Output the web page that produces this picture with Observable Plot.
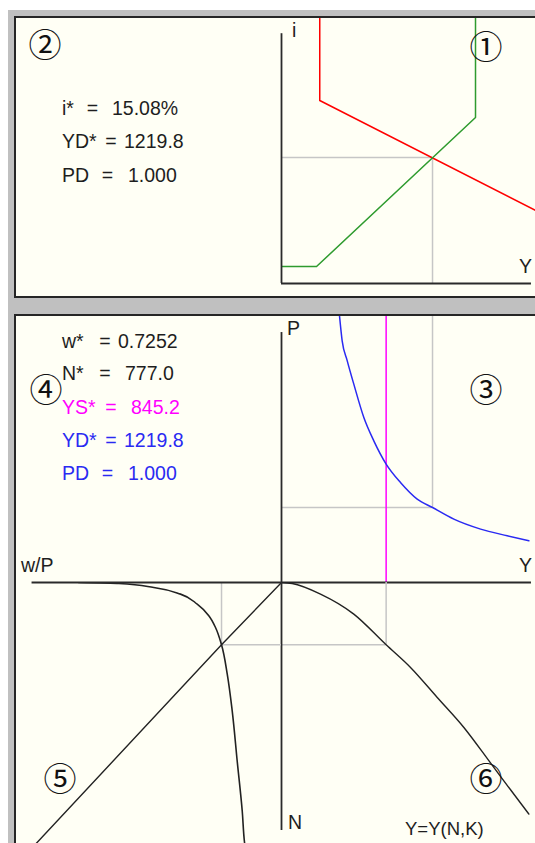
<!DOCTYPE html>
<html>
<head>
<meta charset="utf-8">
<script src="https://cdn.jsdelivr.net/npm/d3@7"></script>
<script src="https://cdn.jsdelivr.net/npm/@observablehq/plot@0.6"></script>
<style>
  html, body { margin: 0; padding: 0; background: #fff; width: 535px; height: 843px; overflow: hidden; position: relative; }
  #frame { position: absolute; left: 8px; top: 10px; width: 600px; height: 900px; background: #c0c0c0; }
  .panel { position: absolute; left: 14px; width: 560px; background: #fffff5; border: 2px solid #262626; box-sizing: border-box; }
  .t { position: absolute; font-family: "Liberation Sans", Arial, sans-serif; font-size: 19.5px; line-height: 1; color: #1e1e1e; white-space: pre; transform: translateY(-50%); }
  .mid { transform: translate(-50%, -50%); }
  .c { position: absolute; font-family: "Noto Sans CJK JP", sans-serif; font-size: 33px; line-height: 1; color: #111; transform: translate(-50%, -50%); }
</style>
</head>
<body>
<div id="frame"></div>
<div class="panel" style="top:16px;height:282px"></div>
<div class="panel" style="top:314px;height:600px"></div>
<script>
// Equilibrium values
const iStar = 15.08;    // interest rate, %
const ydStar = 1219.8;  // aggregate demand output
const pd = 1.000;       // demand price level
const wStar = 0.7252;   // real wage
const nStar = 777.0;    // employment
const ysStar = 845.2;   // aggregate supply output

// ① IS curve (red): output Y, interest rate i (%)
const isY = [309, 309, 2052];
const isI = [33, 21.9, 8.74];
// ① LM curve (green)
const lmY = [0, 283, 1567, 1567];
const lmI = [2.03, 2.03, 19.87, 33];

// ③ aggregate demand curve (blue): output Y, price level P
const adY = [468.5, 490, 531, 584, 665, 745.6, 845.2, 961, 1096, 1219.8, 1392, 1608, 1823, 1998];
const adP = [3.556, 3.223, 2.956, 2.645, 2.2, 1.889, 1.579, 1.333, 1.112, 1.0, 0.845, 0.712, 0.623, 0.556];

// ⑥ production function Y = Y(N, K): employment N, output Y
const prodN = [0, 12.5, 144.7, 394, 777, 1060, 1434, 1808, 2250, 2585, 2888];
const prodY = [0, 86, 315, 584, 845.2, 1042, 1258, 1473, 1688, 1850, 1998];

// ⑤ labour demand: real wage w/P, employment N
const ldW = [2.454, 1.967, 1.544, 1.221, 1.019, 0.879, 0.798, 0.7252, 0.656, 0.596, 0.536, 0.475, 0.447, 0.44];
const ldN = [0, 12, 62, 145, 270, 415, 561, 777, 1142, 1600, 2223, 2847, 3242, 3300];
// ⑤ labour supply
const lsW = [0, 0.7252, 3.0];
const lsN = [0, 777, 3292];

// ---- styling ----
const AXIS = "#2a2a2a", GREY = "#c6c6c6";
const RED = "#ff0000", GREEN = "#2e9b2e", BLUE = "#2a2af2", MAGENTA = "#ff00ff";
const svgStyle = {background: "none", overflow: "visible", maxWidth: "none"};

function place(el, left, top) {
  el.style.position = "absolute";
  el.style.left = left + "px";
  el.style.top = top + "px";
  document.body.appendChild(el);
}
function pairs(xs, ys) { return xs.map((x, k) => [x, ys[k]]); }

// Axis extents (in each panel's own units)
const yAxisEnd = 2019;   // right end of Y axes
const iAxisTop = 29.9;
const pAxisTop = 3.333;
const nAxisEnd = 3093;
const wpAxisEnd = 3.016;

// ---- panel ①: IS–LM ----
place(Plot.plot({
  width: 260, height: 265, margin: 0,
  x: {domain: [0, 2100], axis: null},
  y: {domain: [0, 31.72], axis: null},
  style: svgStyle,
  marks: [
    Plot.ruleY([iStar], {x1: 0, x2: ydStar, stroke: GREY, strokeWidth: 1.5}),
    Plot.ruleX([ydStar], {y1: 0, y2: iStar, stroke: GREY, strokeWidth: 1.5}),
    Plot.line(pairs(isY, isI), {stroke: RED, strokeWidth: 1.5, clip: true}),
    Plot.line(pairs(lmY, lmI), {stroke: GREEN, strokeWidth: 1.5, clip: true}),
    Plot.ruleX([0], {y1: 0, y2: iAxisTop, stroke: AXIS, strokeWidth: 1.8}),
    Plot.ruleY([0], {x1: 0, x2: yAxisEnd, stroke: AXIS, strokeWidth: 1.8})
  ]
}), 281, 18);

// ---- panel ③: AD and AS in (Y, P) ----
place(Plot.plot({
  width: 260, height: 266, margin: 0,
  x: {domain: [0, 2100], axis: null},
  y: {domain: [0, 3.547], axis: null},
  style: svgStyle,
  marks: [
    Plot.ruleX([ydStar], {y1: pd, y2: 4, stroke: GREY, strokeWidth: 1.5, clip: true}),
    Plot.ruleY([pd], {x1: 0, x2: ydStar, stroke: GREY, strokeWidth: 1.5}),
    Plot.ruleX([ysStar], {y1: 0, y2: 4, stroke: MAGENTA, strokeWidth: 1.5, clip: true}),
    Plot.line(pairs(adY, adP), {stroke: BLUE, strokeWidth: 1.5, curve: "monotone-x", clip: true}),
    Plot.ruleX([0], {y1: 0, y2: pAxisTop, stroke: AXIS, strokeWidth: 1.8}),
    Plot.ruleY([0], {x1: 0, x2: yAxisEnd, stroke: AXIS, strokeWidth: 1.8})
  ]
}), 281, 316);

// ---- panel ⑥: production function (Y, N downward) ----
place(Plot.plot({
  width: 260, height: 270, margin: 0,
  x: {domain: [0, 2100], axis: null},
  y: {domain: [0, 3367], reverse: true, axis: null},
  style: svgStyle,
  marks: [
    Plot.ruleX([ysStar], {y1: 0, y2: nStar, stroke: GREY, strokeWidth: 1.5}),
    Plot.ruleY([nStar], {x1: 0, x2: ysStar, stroke: GREY, strokeWidth: 1.5}),
    Plot.line(pairs(prodY, prodN), {stroke: "#222", strokeWidth: 1.4, curve: "monotone-x", clip: true}),
    Plot.ruleX([0], {y1: 0, y2: nAxisEnd, stroke: AXIS, strokeWidth: 1.8})
  ]
}), 281, 582);

// ---- panel ⑤: labour market (w/P leftward, N downward) ----
place(Plot.plot({
  width: 265, height: 270, margin: 0,
  x: {domain: [0, 3.204], reverse: true, axis: null},
  y: {domain: [0, 3367], reverse: true, axis: null},
  style: svgStyle,
  marks: [
    Plot.ruleX([wStar], {y1: 0, y2: nStar, stroke: GREY, strokeWidth: 1.5}),
    Plot.ruleY([nStar], {x1: 0, x2: wStar, stroke: GREY, strokeWidth: 1.5}),
    Plot.line(pairs(ldW, ldN), {stroke: "#222", strokeWidth: 1.6, curve: "monotone-y", clip: true}),
    Plot.line(pairs(lsW, lsN), {stroke: "#222", strokeWidth: 1.4, clip: true}),
    Plot.ruleY([0], {x1: 0, x2: wpAxisEnd, stroke: AXIS, strokeWidth: 1.8})
  ]
}), 16, 582);

// ---- text ----
function text(str, x, y, opts = {}) {
  const el = document.createElement("div");
  el.className = opts.circle ? "c" : ("t" + (opts.mid ? " mid" : ""));
  el.textContent = str;
  el.style.left = x + "px";
  el.style.top = y + "px";
  if (opts.color) el.style.color = opts.color;
  if (opts.size) el.style.fontSize = opts.size + "px";
  document.body.appendChild(el);
}
function row(label, value, y, eqX, valX, color) {
  text(label, 62, y, {color});
  text("=", eqX, y, {mid: true, color});
  text(value, valX, y, {color});
}

// circled quadrant numbers
text("②", 45, 43, {circle: true});
text("①", 486, 45, {circle: true});
text("④", 46, 388, {circle: true});
text("③", 486, 388, {circle: true});
text("⑤", 60, 777, {circle: true});
text("⑥", 486, 777, {circle: true});

// axis names
text("i", 292, 31);
text("Y", 519, 267);
text("P", 287, 329);
text("w/P", 21, 566);
text("Y", 519, 566);
text("N", 288, 823);
text("Y=Y(N,K)", 405, 829, {size: 18.5});

// equilibrium readouts, top panel
row("i*", iStar.toFixed(2) + "%", 109, 92.5, 112, null);
row("YD*", ydStar.toFixed(1), 142, 111, 124, null);
row("PD", pd.toFixed(3), 175.5, 107.5, 128, null);

// equilibrium readouts, bottom panel
row("w*", wStar.toFixed(4), 342, 105, 118, null);
row("N*", nStar.toFixed(1), 374, 105, 125, null);
row("YS*", ysStar.toFixed(1), 407.5, 111, 131, MAGENTA);
row("YD*", ydStar.toFixed(1), 441, 111, 124, BLUE);
row("PD", pd.toFixed(3), 474, 107.5, 128, BLUE);
</script>
</body>
</html>
